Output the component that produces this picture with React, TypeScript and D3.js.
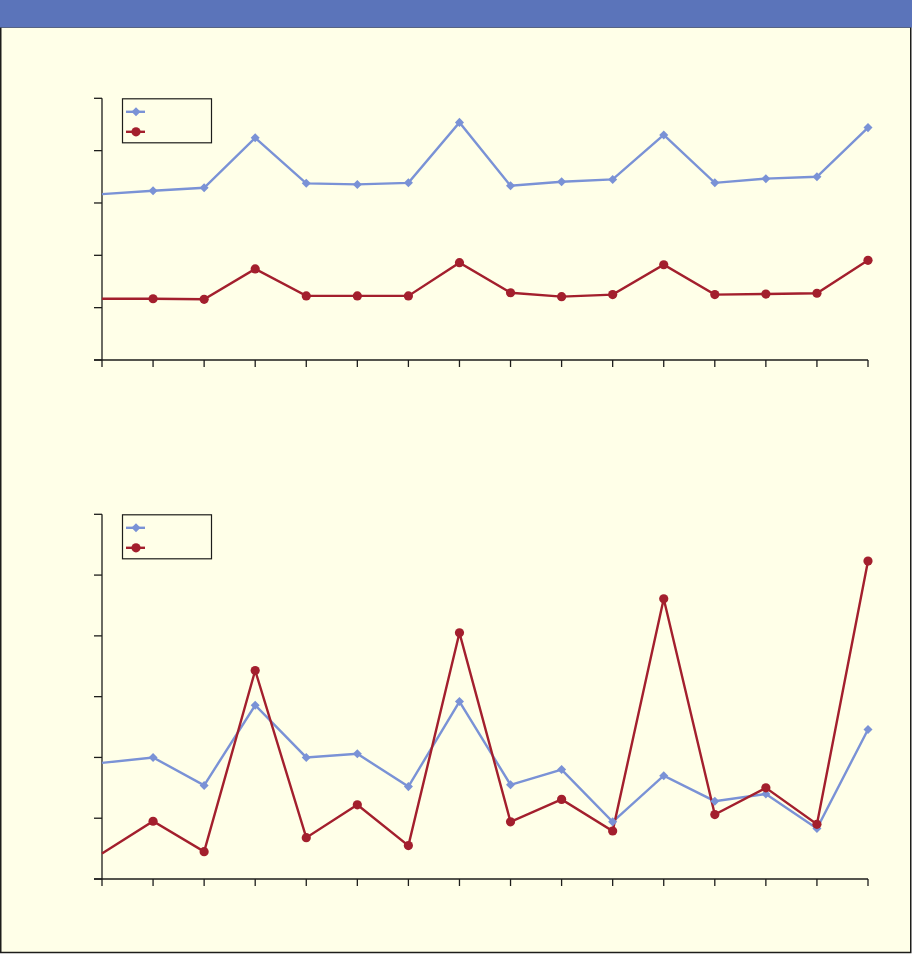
import React from 'react';
import * as d3 from 'd3';

// 16 points per series
const periods = d3.range(16);

const topBlue = [63.4, 64.7, 65.8, 84.9, 67.5, 67.1, 67.7, 90.8, 66.6, 68.1, 69.0, 86.0, 67.7, 69.3, 70.0, 88.8];
const topRed = [23.4, 23.4, 23.2, 34.8, 24.5, 24.5, 24.5, 37.2, 25.7, 24.2, 25.0, 36.4, 25.0, 25.2, 25.5, 38.1];
const topTicks = [0, 20, 40, 60, 80, 100];

const bottomBlue = [19.1, 20.0, 15.4, 28.6, 20.0, 20.6, 15.2, 29.2, 15.5, 18.0, 9.4, 17.0, 12.8, 14.0, 8.3, 24.6];
const bottomRed = [4.2, 9.5, 4.5, 34.3, 6.8, 12.2, 5.5, 40.5, 9.4, 13.1, 7.9, 46.1, 10.6, 15.0, 9.0, 52.3];
const bottomTicks = [0, 10, 20, 30, 40, 50, 60];

const BLUE = '#7a92d6';
const RED = '#a31f2d';
const INK = '#1d1d1b';
const PAPER = '#ffffe8';
const BAND = '#5b74ba';

const W = 912;
const H = 954;

const diamond = d3.symbol(d3.symbolDiamond2, 52)() || '';

interface PanelProps {
  top: number;
  bottom: number;
  blue: number[];
  red: number[];
  ticks: number[];
}

const Panel: React.FC<PanelProps> = ({ top, bottom, blue, red, ticks }) => {
  const x = d3.scaleLinear().domain([0, periods.length - 1]).range([102, 868]);
  const y = d3.scaleLinear().domain([ticks[0], ticks[ticks.length - 1]]).range([bottom, top]);

  const line = d3.line<number>()
    .x((_, i) => x(i))
    .y(d => y(d));

  const left = x.range()[0];
  const right = x.range()[1];

  return (
    <g>
      {/* y axis */}
      <line x1={left} y1={top} x2={left} y2={bottom} stroke={INK} strokeWidth={1.3} />
      {ticks.map(t => (
        <line key={`y${t}`} x1={left - 8} x2={left} y1={y(t)} y2={y(t)} stroke={INK} strokeWidth={1.3} />
      ))}
      {/* x axis */}
      <line x1={left - 8} y1={bottom} x2={right} y2={bottom} stroke={INK} strokeWidth={1.3} />
      {periods.map(p => (
        <line key={`x${p}`} x1={x(p)} x2={x(p)} y1={bottom} y2={bottom + 7} stroke={INK} strokeWidth={1.3} />
      ))}

      <path d={line(blue) || ''} fill="none" stroke={BLUE} strokeWidth={2.4} />
      <path d={line(red) || ''} fill="none" stroke={RED} strokeWidth={2.4} />
      {/* first point sits on the axis and shows no marker */}
      {blue.map((v, i) => i > 0 && (
        <path key={`b${i}`} d={diamond} transform={`translate(${x(i)},${y(v)})`} fill={BLUE} />
      ))}
      {red.map((v, i) => i > 0 && (
        <circle key={`r${i}`} cx={x(i)} cy={y(v)} r={4.6} fill={RED} />
      ))}

      {/* legend, no labels in the original */}
      <g transform={`translate(122,${top})`}>
        <rect x={0.5} y={0.5} width={89} height={44} fill="none" stroke={INK} strokeWidth={1.2} />
        <line x1={4} x2={23} y1={13.5} y2={13.5} stroke={BLUE} strokeWidth={2.4} />
        <path d={diamond} transform="translate(14,13.5)" fill={BLUE} />
        <line x1={4} x2={23} y1={33.5} y2={33.5} stroke={RED} strokeWidth={2.4} />
        <circle cx={14} cy={33.5} r={4.6} fill={RED} />
      </g>
    </g>
  );
};

export default function App() {
  return (
    <>
      <style>{'body{margin:0}'}</style>
      <svg width={W} height={H} style={{ display: 'block' }}>
        <rect x={0} y={0} width={W} height={H} fill="#ffffff" />
        <rect x={0.75} y={27} width={910} height={925.5} fill={PAPER} stroke={INK} strokeWidth={1.5} />
        <rect x={0} y={0} width={W} height={27.5} fill={BAND} />

        <Panel top={98.3} bottom={360} blue={topBlue} red={topRed} ticks={topTicks} />
        <Panel top={514.3} bottom={879} blue={bottomBlue} red={bottomRed} ticks={bottomTicks} />
      </svg>
    </>
  );
}
